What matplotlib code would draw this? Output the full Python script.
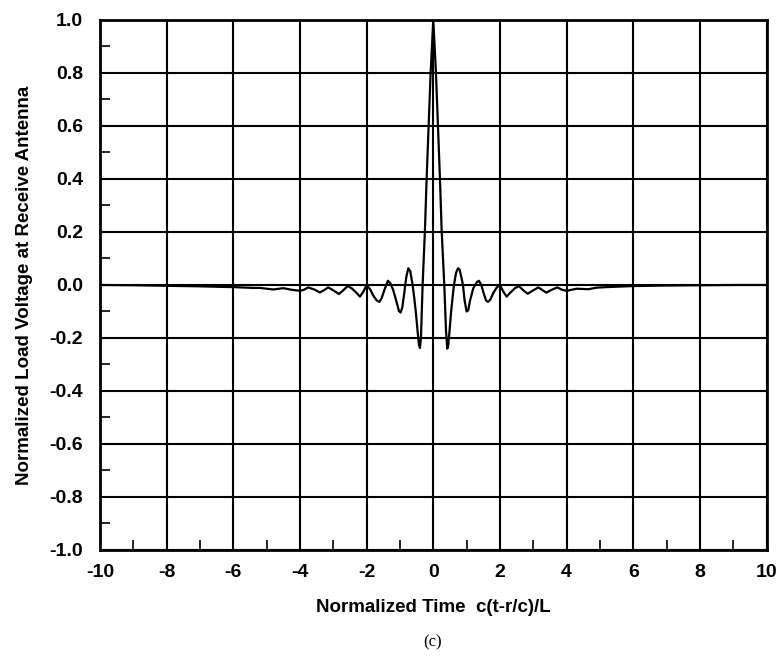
import numpy as np
import matplotlib.pyplot as plt
from matplotlib.ticker import MultipleLocator

# received load voltage vs normalized time
t = [-10.0, -9.0, -8.0, -7.0, -6.4, -6.0, -5.4, -5.2, -4.8, -4.5, -4.25, -4.0,
     -3.88, -3.75, -3.55, -3.4, -3.28, -3.15, -3.0, -2.83, -2.7, -2.57, -2.45,
     -2.3, -2.2, -2.1, -2.0, -1.9, -1.8, -1.7, -1.62, -1.55, -1.47, -1.36,
     -1.28, -1.2, -1.1, -1.03, -0.98, -0.93, -0.87, -0.81, -0.75, -0.69,
     -0.62, -0.57, -0.52, -0.47, -0.43, -0.40, -0.37, -0.32, -0.25, -0.20,
     -0.14, -0.08, 0.0,
     0.08, 0.14, 0.20, 0.25, 0.33, 0.38, 0.42, 0.45, 0.49, 0.53, 0.58, 0.62,
     0.68, 0.74, 0.79, 0.84, 0.89, 0.94, 1.0, 1.05, 1.1, 1.2, 1.3, 1.37,
     1.44, 1.52, 1.58, 1.64, 1.71, 1.8, 1.9, 2.0, 2.1, 2.2, 2.3, 2.45, 2.57,
     2.7, 2.83, 3.0, 3.15, 3.28, 3.39, 3.55, 3.72, 3.86, 4.0, 4.3, 4.65, 4.9,
     5.2, 5.6, 6.0, 7.0, 8.0, 9.0, 10.0]
v = [0.0, -0.001, -0.003, -0.005, -0.007, -0.008, -0.011, -0.011, -0.017,
     -0.012, -0.018, -0.022, -0.018, -0.009, -0.018, -0.028, -0.020, -0.009,
     -0.020, -0.034, -0.020, -0.004, -0.012, -0.030, -0.044, -0.026, 0.0,
     -0.015, -0.040, -0.058, -0.064, -0.050, -0.020, 0.016, 0.005, -0.020,
     -0.065, -0.098, -0.104, -0.085, -0.030, 0.030, 0.063, 0.052, 0.0, -0.050,
     -0.107, -0.175, -0.225, -0.238, -0.200, 0.0, 0.208, 0.400, 0.600, 0.800,
     1.0,
     0.800, 0.600, 0.400, 0.208, 0.0, -0.170, -0.240, -0.225, -0.170, -0.107,
     -0.045, 0.0, 0.045, 0.063, 0.058, 0.030, 0.0, -0.060, -0.100, -0.095,
     -0.060, -0.012, 0.010, 0.016, 0.0, -0.035, -0.058, -0.064, -0.055,
     -0.030, -0.010, 0.0, -0.025, -0.044, -0.030, -0.012, -0.004, -0.020,
     -0.033, -0.020, -0.009, -0.020, -0.029, -0.018, -0.009, -0.018, -0.022,
     -0.014, -0.016, -0.010, -0.008, -0.006, -0.004, -0.002, -0.001, 0.0, 0.0]

plt.rcParams['font.family'] = ['Liberation Sans', 'DejaVu Sans']

fig = plt.figure(figsize=(7.8, 6.6), dpi=100)
ax = fig.add_axes([0.128, 0.1667, 0.855, 0.803])

ax.plot(t, v, color='black', lw=1.6, zorder=3)

ax.set_xlim(-10, 10)
ax.set_ylim(-1.0, 1.0)
ax.xaxis.set_major_locator(MultipleLocator(2))
ax.xaxis.set_minor_locator(MultipleLocator(1))
ax.yaxis.set_major_locator(MultipleLocator(0.2))
ax.yaxis.set_minor_locator(MultipleLocator(0.1))
ax.yaxis.set_major_formatter(plt.FuncFormatter(lambda y, _: f'{y:.1f}'))
ax.xaxis.set_major_formatter(plt.FuncFormatter(lambda x, _: f'{x:.0f}'))

ax.grid(True, which='major', color='black', lw=1.5)
ax.tick_params(which='both', direction='in', top=False, right=False)
ax.tick_params(axis='y', which='major', length=0, pad=12, labelsize=14)
ax.tick_params(axis='x', which='major', length=0, pad=10, labelsize=14)
ax.tick_params(which='minor', length=7, width=1.2)
for lbl in ax.get_xticklabels() + ax.get_yticklabels():
    lbl.set_fontweight('bold')
for s in ax.spines.values():
    s.set_linewidth(2)

ax.set_xlabel('Normalized Time  c(t-r/c)/L', fontsize=13.5, fontweight='bold',
              labelpad=13)
ax.set_ylabel('Normalized Load Voltage at Receive Antenna', fontsize=13.5,
              fontweight='bold', labelpad=12)

fig.text(0.555, 0.026, '(c)', fontsize=12, family='Liberation Serif',
         ha='center', va='center')

fig.savefig('out.png', dpi=100)
